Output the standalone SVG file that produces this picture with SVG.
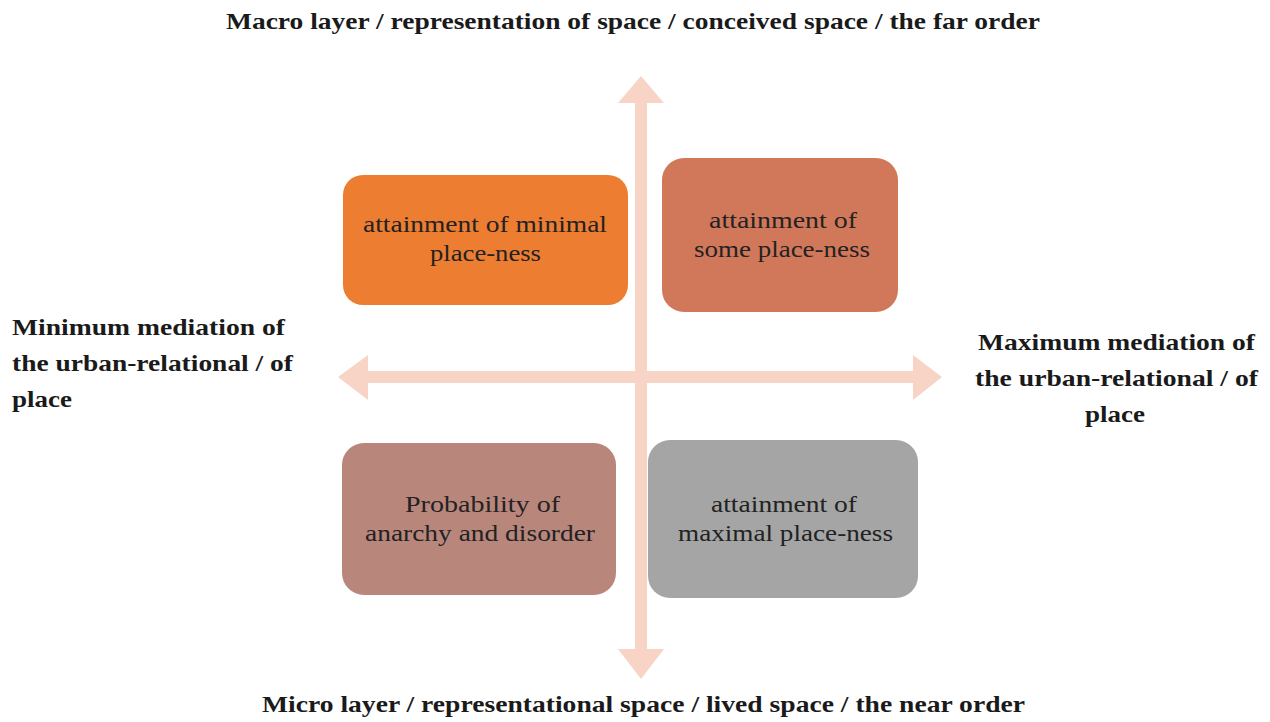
<svg xmlns="http://www.w3.org/2000/svg" width="1270" height="722" viewBox="0 0 1270 722">
  <style>
    .axis { fill: #F8D4C6; }
    .title { font-family: "Liberation Serif", "Times New Roman", serif; font-weight: bold; font-size: 23px; fill: #1a1a1a; }
    .box-text { font-family: "Liberation Serif", "Times New Roman", serif; font-size: 24px; fill: #222222; }
  </style>
  <rect width="1270" height="722" fill="#ffffff"/>

  <g id="connectors">
    <polygon class="axis" points="641,76 664,103 647,103 647,649 664,649 641,679 618,649 635,649 635,103 618,103"/>
    <polygon class="axis" points="338,377 368,355 368,371 913,371 913,355 942,377 913,400 913,383 368,383 368,400"/>
  </g>

  <g id="node-tl">
    <rect x="343" y="175" width="285" height="130" rx="20" fill="#ED7D31"/>
    <text class="box-text" x="363" y="232" textLength="244" lengthAdjust="spacingAndGlyphs">attainment of minimal</text>
    <text class="box-text" x="430" y="261" textLength="111" lengthAdjust="spacingAndGlyphs">place-ness</text>
  </g>
  <g id="node-tr">
    <rect x="662" y="158" width="236" height="154" rx="22" fill="#D2785A"/>
    <text class="box-text" x="709" y="228" textLength="148" lengthAdjust="spacingAndGlyphs">attainment of</text>
    <text class="box-text" x="694" y="257" textLength="176" lengthAdjust="spacingAndGlyphs">some place-ness</text>
  </g>
  <g id="node-bl">
    <rect x="342" y="443" width="274" height="152" rx="22" fill="#B9867C"/>
    <text class="box-text" x="405" y="512" textLength="155" lengthAdjust="spacingAndGlyphs">Probability of</text>
    <text class="box-text" x="365" y="541" textLength="230" lengthAdjust="spacingAndGlyphs">anarchy and disorder</text>
  </g>
  <g id="node-br">
    <rect x="648" y="440" width="270" height="158" rx="22" fill="#A5A5A5"/>
    <text class="box-text" x="711" y="512" textLength="146" lengthAdjust="spacingAndGlyphs">attainment of</text>
    <text class="box-text" x="678" y="541" textLength="215" lengthAdjust="spacingAndGlyphs">maximal place-ness</text>
  </g>

  <g id="label-top">
    <text class="title" x="226" y="29" textLength="814" lengthAdjust="spacingAndGlyphs">Macro layer / representation of space / conceived space / the far order</text>
  </g>
  <g id="label-bottom">
    <text class="title" x="262" y="712" textLength="763" lengthAdjust="spacingAndGlyphs">Micro layer / representational space / lived space / the near order</text>
  </g>
  <g id="label-left">
    <text class="title" x="12" y="335" textLength="273" lengthAdjust="spacingAndGlyphs">Minimum mediation of</text>
    <text class="title" x="12" y="371" textLength="281" lengthAdjust="spacingAndGlyphs">the urban-relational / of</text>
    <text class="title" x="12" y="407" textLength="60" lengthAdjust="spacingAndGlyphs">place</text>
  </g>
  <g id="label-right">
    <text class="title" x="978" y="350" textLength="277" lengthAdjust="spacingAndGlyphs">Maximum mediation of</text>
    <text class="title" x="975" y="386" textLength="283" lengthAdjust="spacingAndGlyphs">the urban-relational / of</text>
    <text class="title" x="1085" y="422" textLength="60" lengthAdjust="spacingAndGlyphs">place</text>
  </g>
</svg>
